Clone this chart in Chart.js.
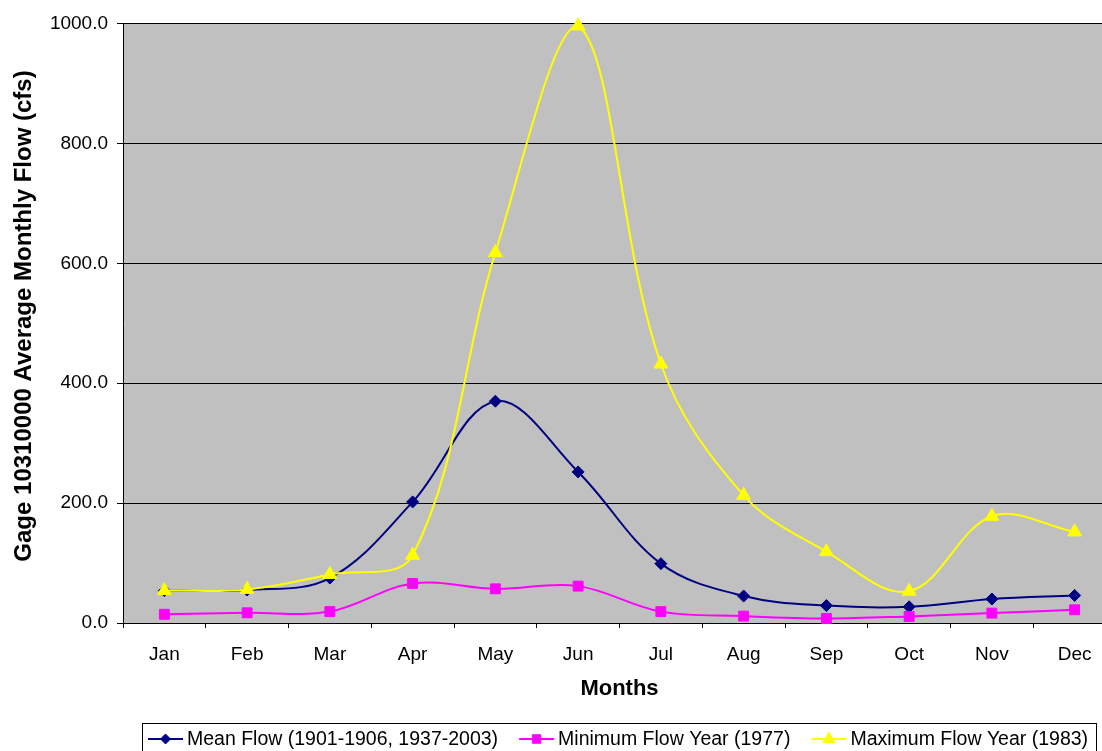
<!DOCTYPE html>
<html>
<head>
<meta charset="utf-8">
<script src="https://cdn.jsdelivr.net/npm/chart.js@4/dist/chart.umd.min.js"></script>
<style>
  html, body { margin: 0; padding: 0; background: #fff; }
  #wrap { width: 1102px; height: 751px; overflow: hidden; position: relative; }
  canvas { display: block; }
</style>
</head>
<body>
<div id="wrap"><canvas id="c" width="1125" height="770"></canvas></div>
<script>
// Monthly flow at gage 10310000 (cfs)
const months = ['Jan', 'Feb', 'Mar', 'Apr', 'May', 'Jun', 'Jul', 'Aug', 'Sep', 'Oct', 'Nov', 'Dec'];
const meanFlow = [54, 55, 75, 202, 370, 252, 99, 45, 29, 27, 40, 46];
const minFlow1977 = [14.5, 17, 19, 66, 57, 61.5, 19, 11.5, 7.5, 11, 16.5, 22];
const maxFlow1983 = [54, 56, 81, 113, 618, 996, 432, 213, 119, 53, 178, 152];
const yTicks = [0, 200, 400, 600, 800, 1000];

const seriesNames = ['Mean Flow (1901-1906, 1937-2003)', 'Minimum Flow Year (1977)', 'Maximum Flow Year (1983)'];
const FONT = '"Liberation Sans", Arial, sans-serif';

function series(label, data, color, style, radius, order) {
  return {
    label, data, order,
    borderColor: color, backgroundColor: color,
    borderWidth: 2,
    pointStyle: style, pointRadius: radius, pointHoverRadius: radius,
    pointBorderWidth: 1, pointBorderColor: color, pointBackgroundColor: color,
    tension: 0.36, fill: false, clip: false
  };
}

// Titles and boxed legend drawn on top of the chart
const decorations = {
  id: 'decorations',
  afterDraw(chart) {
    const ctx = chart.ctx;
    const area = chart.chartArea;
    ctx.save();
    ctx.fillStyle = '#000';
    // y-axis title
    ctx.font = 'bold 24px ' + FONT;
    ctx.textAlign = 'center';
    ctx.textBaseline = 'middle';
    ctx.translate(24, 316);
    ctx.rotate(-Math.PI / 2);
    ctx.fillText('Gage 10310000 Average Monthly Flow (cfs)', 0, 0);
    ctx.restore();

    ctx.save();
    ctx.fillStyle = '#000';
    ctx.font = 'bold 22px ' + FONT;
    ctx.textAlign = 'center';
    ctx.textBaseline = 'middle';
    ctx.fillText('Months', (area.left + area.right) / 2, 689);

    // legend box
    ctx.strokeStyle = '#000';
    ctx.lineWidth = 1;
    ctx.strokeRect(142.5, 723.5, 954, 40);
    ctx.font = '19.5px ' + FONT;
    ctx.textAlign = 'left';
    let x = 148;
    const y = 739;
    chart.data.datasets.forEach((ds) => {
      ctx.strokeStyle = ds.borderColor;
      ctx.lineWidth = 2;
      ctx.beginPath();
      ctx.moveTo(x, y);
      ctx.lineTo(x + 35, y);
      ctx.stroke();
      ctx.fillStyle = ds.backgroundColor;
      ctx.strokeStyle = ds.borderColor;
      ctx.lineWidth = 1;
      Chart.helpers.drawPoint(ctx, { pointStyle: ds.pointStyle, radius: ds.pointRadius - 1, rotation: 0, borderWidth: 1 }, x + 17.5, y);
      ctx.fillStyle = '#000';
      ctx.fillText(ds.label, x + 39, y + 1);
      x += 39 + ctx.measureText(ds.label).width + 21;
    });
    ctx.restore();
  }
};

const chartAreaBg = {
  id: 'chartAreaBg',
  beforeDraw(chart) {
    const { ctx, chartArea: a } = chart;
    ctx.save();
    ctx.fillStyle = '#C0C0C0';
    ctx.fillRect(a.left, a.top, a.right - a.left, a.bottom - a.top);
    ctx.restore();
  }
};

new Chart(document.getElementById('c'), {
  type: 'line',
  data: {
    labels: months,
    datasets: [
      series(seriesNames[0], meanFlow, '#000080', 'rectRot', 6, 3),
      series(seriesNames[1], minFlow1977, '#FF00FF', 'rect', 7, 2),
      series(seriesNames[2], maxFlow1983, '#FFFF00', 'triangle', 8, 1)
    ]
  },
  options: {
    responsive: false,
    devicePixelRatio: 1,
    animation: false,
    layout: { padding: { top: 23.5, left: 0, right: 3, bottom: 0 } },
    plugins: { legend: { display: false }, tooltip: { enabled: false } },
    scales: {
      x: {
        offset: true,
        grid: { display: true, drawOnChartArea: false, drawTicks: true, tickLength: 5, offset: true, color: '#000' },
        border: { display: true, color: '#000', width: 1 },
        ticks: { color: '#000', font: { family: FONT, size: 19 }, padding: 15, maxRotation: 0, autoSkip: false },
        afterFit(scale) { scale.height = 770 - 623; }
      },
      y: {
        min: 0, max: 1000,
        afterBuildTicks(scale) { scale.ticks = yTicks.map(v => ({ value: v })); },
        grid: { color: '#000', lineWidth: 1, drawTicks: true, tickLength: 6 },
        border: { display: true, color: '#000', width: 1 },
        ticks: {
          color: '#000', font: { family: FONT, size: 19 }, padding: 9,
          callback: (v) => Number(v).toFixed(1)
        },
        afterFit(scale) { scale.width = 123; }
      }
    }
  },
  plugins: [chartAreaBg, decorations]
});
</script>
</body>
</html>
